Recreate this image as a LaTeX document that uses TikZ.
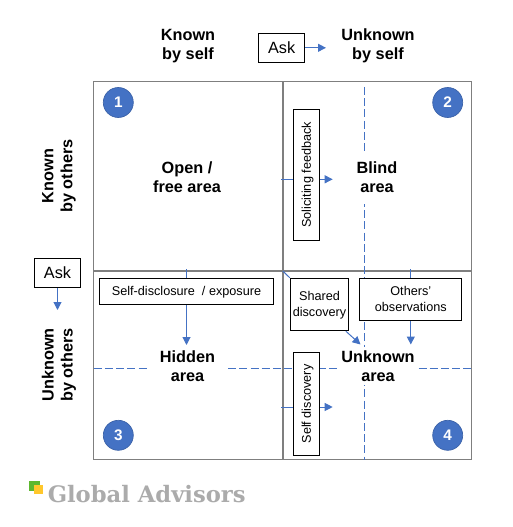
\documentclass[tikz,border=0pt]{standalone}
\usepackage{fontspec}
\setmainfont{Liberation Sans}
\newfontfamily\logofont{DejaVu Serif}
\usetikzlibrary{arrows.meta}
\definecolor{gridgray}{HTML}{7F7F7F}
\definecolor{flowblue}{HTML}{4472C4}
\definecolor{logogray}{HTML}{ABABAB}
\definecolor{logogreen}{HTML}{5DB82E}
\definecolor{logoyellow}{HTML}{FFC72C}
\tikzset{
  axislabel/.style={align=center,inner sep=0pt,font=\bfseries\fontsize{12.2}{14.25}\selectfont},
  area/.style={axislabel,fill=white},
  note/.style={draw=black,line width=0.75pt,fill=white,inner sep=0pt,align=center,text depth=0.5pt,font=\fontsize{9.5}{12.2}\selectfont},
  askbox/.style={note,minimum width=34.8pt,minimum height=21.75pt,font=\fontsize{12.2}{14}\selectfont},
  badge/.style={circle,draw=flowblue!85!black,line width=0.5pt,fill=flowblue,text=white,minimum size=22.5pt,inner sep=0pt,font=\bfseries\fontsize{11.5}{13}\selectfont},
  flow/.style={draw=flowblue,line width=0.75pt,-{Triangle[length=6pt,width=6pt]}},
  tick/.style={draw=flowblue,line width=0.75pt},
  guide/.style={draw=flowblue,line width=0.75pt,dash pattern=on 6pt off 2.4pt},
}
\begin{document}
\begin{tikzpicture}[x=0.75pt,y=-0.75pt]
\useasboundingbox (0,0) rectangle (512,527);
% grid
\coordinate (nw) at (93.7,81.7);
\coordinate (se) at (471.7,459.5);
\coordinate (mid) at (282.8,271);
\draw[gridgray,line width=1.1pt] (nw) rectangle (se);
\draw[gridgray,line width=1.4pt] (nw |- mid) -- (se |- mid);
\draw[gridgray,line width=1.4pt] (mid |- nw) -- (mid |- se);
% dashed guides
\coordinate (vtop) at (364.3,87);
\coordinate (hleft) at (93.7,368.3);
\draw[guide] (vtop) -- (vtop |- se);
\draw[guide] (hleft) -- (hleft -| se);
% headers
\node[axislabel] (knownself) at (188,46) {Known\\by self};
\node[axislabel] (unknownself) at (378,46) {Unknown\\by self};
\node[axislabel,rotate=90] (knownothers) at (59,176) {Known\\by others};
\node[axislabel,rotate=90] (unknownothers) at (59,365) {Unknown\\by others};
% areas
\node[area] (open) at (187,177.5) {Open /\\free area};
\node[area,minimum width=58pt,minimum height=39pt] (blind) at (377,177.5) {Blind\\area};
\node[area,minimum width=58.5pt] (hidden) at (187.5,366.5) {Hidden\\area};
\node[area,minimum width=58pt,minimum height=28pt] (unknown) at (378,366) {Unknown\\area};
% badges
\node[badge] (one) at (118.3,102.5) {1};
\node[badge] (two) at (447.7,102.5) {2};
\node[badge] (three) at (118.3,435.3) {3};
\node[badge] (four) at (447.7,435.3) {4};
% ask boxes
\node[askbox] (asktop) at (281.7,47.8) {Ask};
\node[askbox] (askleft) at (57.5,272.8) {Ask};
\coordinate (asktoptip) at (326,47.8);
\coordinate (asklefttip) at (57.5,310);
\draw[flow] (asktop) -- (asktoptip);
\draw[flow] (askleft) -- (asklefttip);
% notes
\node[note,rotate=90,minimum width=98.3pt,minimum height=19.8pt] (soliciting) at (306.5,174.8) {Soliciting feedback};
\node[note,rotate=90,minimum width=77.5pt,minimum height=19.8pt] (selfdisc) at (306.5,404) {Self discovery};
\node[note,minimum width=130.8pt,minimum height=19.8pt] (disclosure) at (186.5,291.5) {Self-disclosure~ / exposure};
\node[note,minimum width=43.8pt,minimum height=39.3pt] (shared) at (319.5,304.5) {Shared\\discovery};
\node[note,minimum width=76.3pt,minimum height=32pt] (others) at (410.8,299.4) {Others’\\observations};
% connectors
\coordinate (soltick) at (281,179.3);
\coordinate (soltip) at (332.7,179.3);
\draw[tick] (soltick) -- (soltick -| soliciting.north);
\draw[flow] (soltip -| soliciting.south) -- (soltip);
\coordinate (selftick) at (281,407);
\coordinate (selftip) at (332.7,407);
\draw[tick] (selftick) -- (selftick -| selfdisc.north);
\draw[flow] (selftip -| selfdisc.south) -- (selftip);
\coordinate (distick) at (186.5,269);
\coordinate (distip) at (186.5,345);
\draw[tick] (distick) -- (disclosure.north);
\draw[flow] (disclosure.south) -- (distip);
\coordinate (othtick) at (410.8,269);
\coordinate (othtip) at (410.8,344.5);
\draw[tick] (othtick) -- (others.north);
\draw[flow] (others.south) -- (othtip);
\coordinate (shatip) at (360.5,344.5);
\draw[tick] (mid) -- (shared.north west);
\draw[flow] ([xshift=-2.5pt]shared.south east) -- (shatip);
% logo
\fill[logogreen] (29.3,480.7) rectangle (39.5,491);
\fill[logoyellow] (34,485) rectangle (43.3,494.3);
\node[anchor=base west,inner sep=0pt,text=logogray,font=\logofont\bfseries\fontsize{17}{20}\selectfont] (logo) at (47.5,502.5) {Global Advisors};
\end{tikzpicture}
\end{document}
